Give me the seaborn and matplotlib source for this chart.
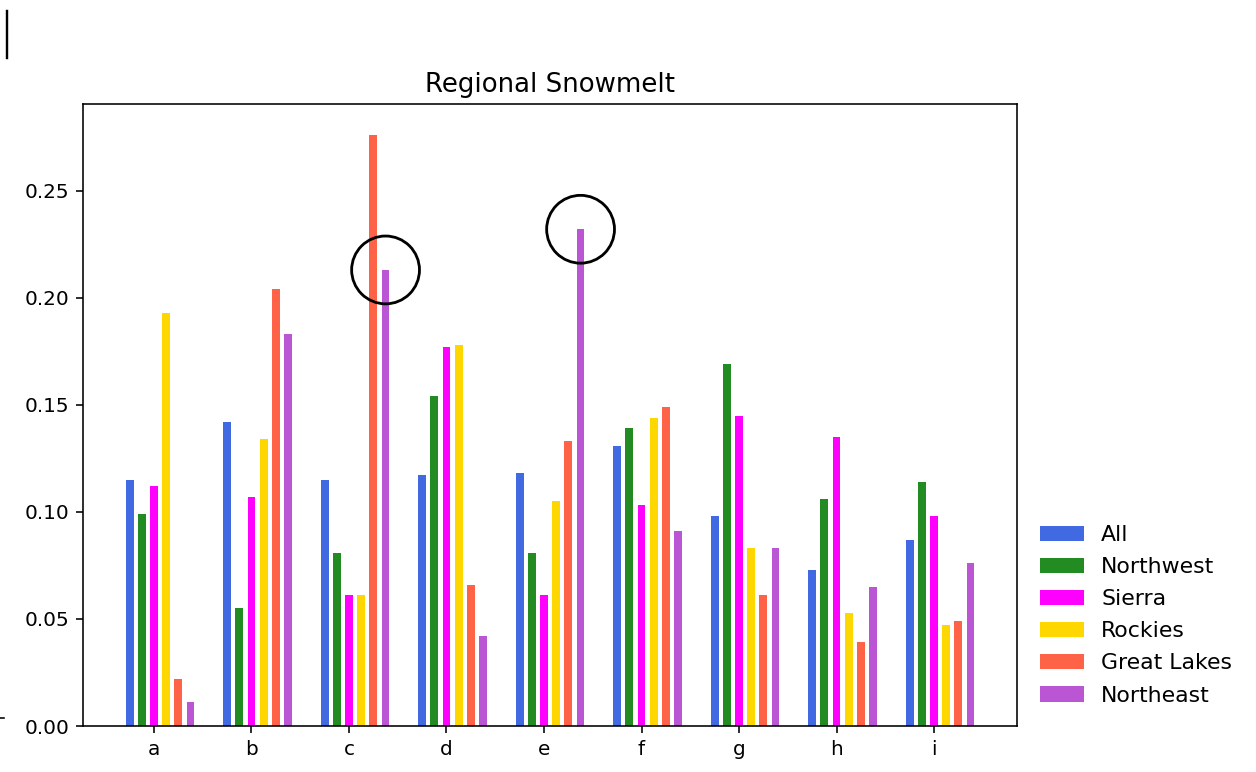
import numpy as np
import pandas as pd
import matplotlib
matplotlib.use("Agg")
import matplotlib.pyplot as plt
from matplotlib.lines import Line2D
import seaborn as sns

groups = ["a", "b", "c", "d", "e", "f", "g", "h", "i"]
regions = ["All", "Northwest", "Sierra", "Rockies", "Great Lakes", "Northeast"]
colors = ["#4169E1", "#228B22", "#FF00FF", "#FFD700", "#FF6347", "#BA55D3"]

all_vals = [0.115, 0.142, 0.115, 0.117, 0.118, 0.131, 0.098, 0.073, 0.087]
northwest = [0.099, 0.055, 0.081, 0.154, 0.081, 0.139, 0.169, 0.106, 0.114]
sierra = [0.112, 0.107, 0.061, 0.177, 0.061, 0.103, 0.145, 0.135, 0.098]
rockies = [0.193, 0.134, 0.061, 0.178, 0.105, 0.144, 0.083, 0.053, 0.047]
great_lakes = [0.022, 0.204, 0.276, 0.066, 0.133, 0.149, 0.061, 0.039, 0.049]
northeast = [0.011, 0.183, 0.213, 0.042, 0.232, 0.091, 0.083, 0.065, 0.076]
series = [all_vals, northwest, sierra, rockies, great_lakes, northeast]

# highlighted (group, region) pairs
highlights = [("c", "Northeast"), ("e", "Northeast")]

step = 0.125
rows = []
for k, (reg, vals) in enumerate(zip(regions, series)):
    for gi, v in enumerate(vals):
        rows.append({"pos": gi + (k - 2) * step, "value": v, "Region": reg})
df = pd.DataFrame(rows)

fig = plt.figure(figsize=(1256 / 144, 772 / 144), dpi=144)
ax = fig.add_axes([83 / 1256, 46 / 772, (1017 - 83) / 1256, (726 - 104) / 772])

sns.barplot(data=df, x="pos", y="value", hue="Region", hue_order=regions,
            palette=dict(zip(regions, colors)), native_scale=True, dodge=False,
            width=0.64, errorbar=None, saturation=1, ax=ax)

hx, hy = [], []
for g, r in highlights:
    gi = groups.index(g)
    k = regions.index(r)
    hx.append(gi + (k - 2) * step)
    hy.append(series[k][gi])
ax.scatter(hx, hy, s=1150, facecolors="none", edgecolors="black", linewidths=1.4, zorder=5)

ax.set_xticks(range(len(groups)))
ax.set_xticklabels(groups)
ax.set_xlim(-0.728, 8.851)
ax.set_ylim(0, 0.2905)
ax.set_xlabel("")
ax.set_ylabel("")
ax.set_title("Regional Snowmelt", fontsize=13)

sns.move_legend(ax, "center left", bbox_to_anchor=(1.003, 0.178), frameon=False,
                title=None, fontsize=11, labelspacing=0.55)

fig.add_artist(Line2D([6.5 / 1256, 6.5 / 1256], [1 - 11 / 772, 1 - 58 / 772],
                      transform=fig.transFigure, color="black", linewidth=1.2))
fig.add_artist(Line2D([0, 4 / 1256], [1 - 718 / 772, 1 - 718 / 772],
                      transform=fig.transFigure, color="black", linewidth=0.8))

fig.savefig("out.png", dpi=144)
